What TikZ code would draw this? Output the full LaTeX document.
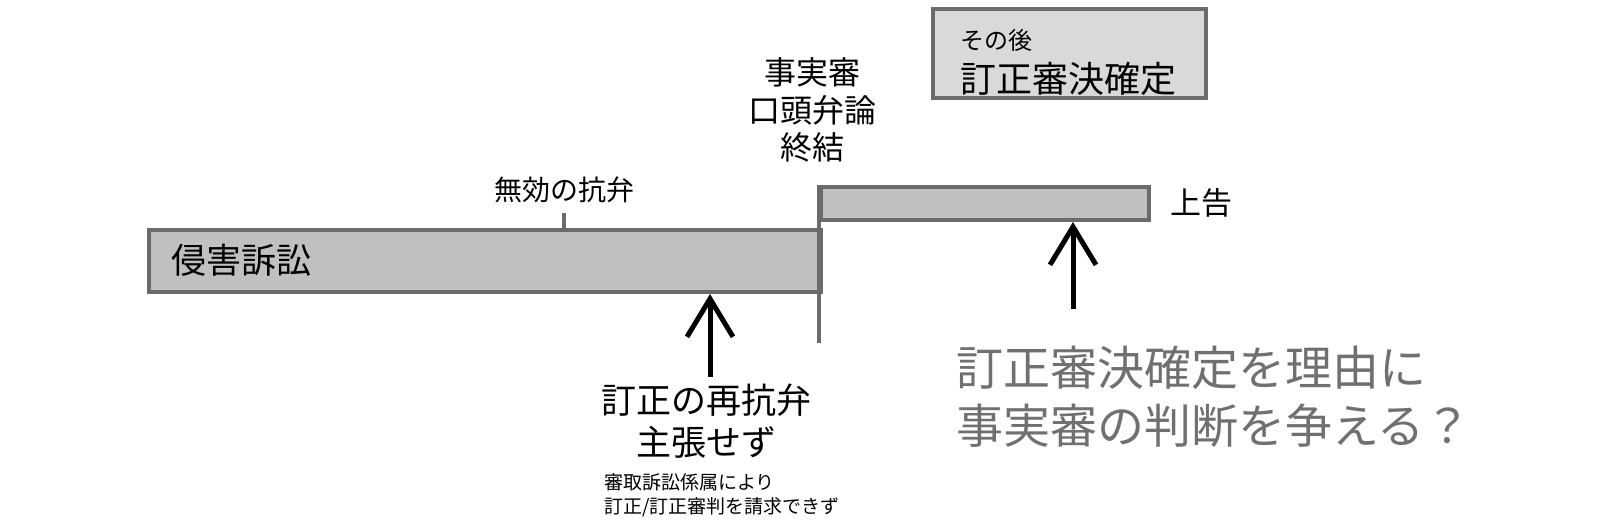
\documentclass[tikz,border=0pt]{standalone}
\usepackage{fontspec}
\setmainfont{Noto Sans CJK JP}
\usepackage{tikz}
\usetikzlibrary{positioning, arrows.meta}
\definecolor{barEdge}{HTML}{6B6B6B}
\definecolor{barFill}{HTML}{C0C0C0}
\definecolor{boxFill}{HTML}{D9D9D9}
\definecolor{askGray}{HTML}{707070}
\tikzstyle{barNode}=[draw=barEdge, fill=barFill, line width=4pt, inner sep=0pt]
\tikzstyle{barLine}=[draw=barEdge, line width=4pt]
\tikzstyle{label}=[inner sep=0pt, align=center]
\tikzstyle{upArrow}=[-{Straight Barb[length=38pt, width=46pt]}, line width=5pt]

\begin{document}
\begin{tikzpicture}[x=1pt, y=-1pt]
  \useasboundingbox (0,0) rectangle (1616,528);

  % proceedings bars
  \node[barNode, minimum width=672pt, minimum height=62pt] (trial) at (485, 261) {};
  \node[barNode, minimum width=328pt, minimum height=33pt] (appeal) at (985, 203.5) {};
  \draw[barLine] (appeal.north west) -- ++(0, 158);

  \node[label, anchor=west, font=\fontsize{35pt}{42pt}\selectfont] (infr) at (171, 260) {侵害訴訟};
  \node[label, anchor=west, font=\fontsize{31pt}{37pt}\selectfont] (jokoku) at (1170, 203) {上告};

  % invalidity defence
  \node[label, font=\fontsize{28pt}{33pt}\selectfont] (invalid) at (564, 190) {無効の抗弁};
  \coordinate (tk) at (564, 213);
  \draw[barLine, line width=3.5pt] (tk) -- (tk |- trial.north);

  % end of fact-finding
  \node[label, font=\fontsize{32pt}{37.5pt}\selectfont] (close) at (812, 110) {事実審\\口頭弁論\\終結};

  % later decision
  \node[barNode, fill=boxFill, minimum width=273pt, minimum height=89pt] (later) at (1069.5, 53.5) {};
  \node[label, anchor=west, font=\fontsize{24pt}{28pt}\selectfont] (sonogo) at (960, 40) {その後};
  \node[label, anchor=west, font=\fontsize{36pt}{42pt}\selectfont] (kakutei) at (960, 79) {訂正審決確定};

  % re-defence not raised
  \node[label, font=\fontsize{35pt}{42pt}\selectfont] (rearg) at (706, 421) {訂正の再抗弁\\主張せず};
  \node[label, anchor=west, align=left, font=\fontsize{19pt}{24pt}\selectfont] (note) at (604, 495)
    {審取訴訟係属により\\訂正/訂正審判を請求できず};
  \coordinate (a1) at (710, 377);
  \draw[upArrow] (a1) -- (a1 |- trial.south);

  % question
  \node[label, anchor=west, align=left, text=askGray, font=\fontsize{47pt}{58pt}\selectfont] (ask) at (956, 397)
    {訂正審決確定を理由に\\事実審の判断を争える？};
  \coordinate (a2) at (1073, 309);
  \draw[upArrow] (a2) -- (a2 |- appeal.south);

\end{tikzpicture}
\end{document}
